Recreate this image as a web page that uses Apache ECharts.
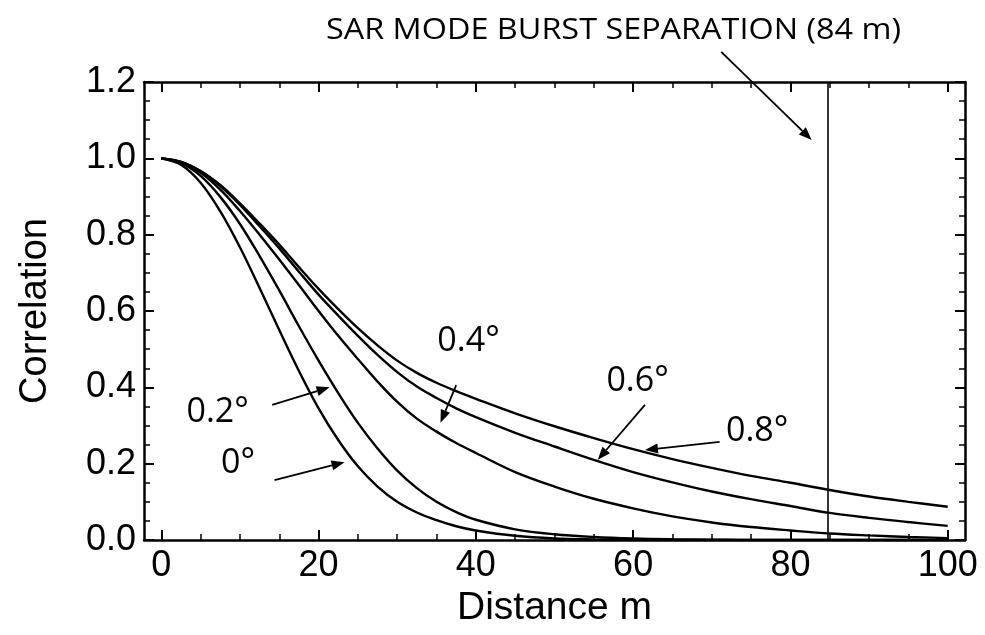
<!DOCTYPE html>
<html>
<head>
<meta charset="utf-8">
<script src="https://cdn.jsdelivr.net/npm/echarts@6/dist/echarts.min.js"></script>
<style>
html,body{margin:0;padding:0;background:#fff;}
#chart{width:985px;height:635px;}
</style>
</head>
<body>
<div id="chart"></div>
<script>
// ---- data ----
const distance = [0,2.5,5,7.5,10,12.5,15,17.5,20,22.5,25,27.5,30,32.5,35,37.5,40,45,50,55,60,65,70,75,80,85,90,95,100];
const corr0 = [1,0.983,0.936,0.861,0.767,0.66,0.55,0.443,0.345,0.262,0.193,0.14,0.1,0.072,0.052,0.036,0.025,0.011,0.004,0.0015,0.0005,0,0,0,0,0,0,0,0];
const corr02 = [1,0.988,0.954,0.899,0.828,0.744,0.654,0.56,0.47,0.385,0.307,0.24,0.182,0.136,0.1,0.073,0.053,0.028,0.015,0.008,0.004,0.002,0.001,0,0,0,0,0,0];
const corr04 = [1,0.99,0.962,0.918,0.862,0.8,0.735,0.668,0.6,0.535,0.474,0.415,0.362,0.318,0.284,0.254,0.228,0.178,0.14,0.108,0.083,0.062,0.046,0.034,0.025,0.017,0.012,0.008,0.005];
const corr06 = [1,0.991,0.966,0.927,0.878,0.822,0.764,0.703,0.643,0.588,0.535,0.485,0.44,0.402,0.372,0.345,0.322,0.281,0.245,0.21,0.178,0.151,0.127,0.107,0.089,0.071,0.058,0.047,0.037];
const corr08 = [1,0.991,0.967,0.93,0.882,0.829,0.774,0.715,0.658,0.605,0.555,0.51,0.47,0.438,0.412,0.39,0.37,0.332,0.298,0.267,0.238,0.212,0.189,0.168,0.15,0.131,0.114,0.1,0.087];
const seriesNames = ['0°','0.2°','0.4°','0.6°','0.8°'];
const seriesValues = [corr0, corr02, corr04, corr06, corr08];
const xTicks = [0,20,40,60,80,100];
const yTicks = [0,0.2,0.4,0.6,0.8,1.0,1.2];
const burstSeparation = 84.7;
const burstText = 'SAR MODE BURST SEPARATION (84 m)';
// annotation labels: [text, x, y] (data units, left/middle anchor)
const labelNotes = [['0°',7.6,0.202],['0.2°',3.2,0.335],['0.4°',35.1,0.521],['0.6°',56.6,0.417],['0.8°',71.8,0.286]];
// arrows: [x0,y0,x1,y1] in data units (tail -> head)
const arrowNotes = [[14.4,0.157,23.3,0.204],[14.1,0.354,21.4,0.40],[37.5,0.406,35.5,0.307],[61.5,0.354,55.5,0.21],[71.0,0.257,61.5,0.236],[71.2,1.279,82.7,1.048]];
const burstTextPos = [57.5,1.336];

const chart = echarts.init(document.getElementById('chart'));
const axisFont = 'Liberation Sans';
const lineW = 2.5;
function xAx(pos, show){
  return {
    type:'value', position:pos, min:-2.2, max:102.2, splitNumber:5,
    axisLine:{show:true, onZero:false, lineStyle:{color:'#000', width:lineW}},
    axisTick:{show:true, inside:true, length:10, customValues:xTicks, lineStyle:{color:'#000', width:2}},
    minorTick:{show:true, splitNumber:4, length:6, lineStyle:{color:'#000', width:1.5}},
    axisLabel:{show:show, customValues:xTicks, color:'#000', fontFamily:axisFont, fontSize:36, margin:8},
    splitLine:{show:false},
    name: show ? 'Distance m' : '', nameLocation:'middle', nameGap:40,
    nameTextStyle:{color:'#000', fontFamily:axisFont, fontSize:39}
  };
}
function yAx(pos, show){
  return {
    type:'value', position:pos, min:0, max:1.2, interval:0.2,
    axisLine:{show:true, onZero:false, lineStyle:{color:'#000', width:lineW}},
    axisTick:{show:true, inside:true, length:10, lineStyle:{color:'#000', width:2}},
    minorTick:{show:true, splitNumber:4, length:6, lineStyle:{color:'#000', width:1.5}},
    axisLabel:{show:show, color:'#000', fontFamily:axisFont, fontSize:36, margin:8,
      formatter:v=>v.toFixed(1)},
    splitLine:{show:false},
    name: show ? 'Correlation' : '', nameLocation:'middle', nameGap:89,
    nameTextStyle:{color:'#000', fontFamily:axisFont, fontSize:38}
  };
}
const series = seriesValues.map((vals,i)=>({
  name:seriesNames[i], type:'line', xAxisIndex:0, yAxisIndex:0,
  data: distance.map((d,j)=>[d, vals[j]]),
  smooth:0.35, showSymbol:false, symbol:'none',
  lineStyle:{color:'#000', width:2.4}, silent:true,
  markLine: i===0 ? {symbol:'none', silent:true, label:{show:false},
    lineStyle:{color:'#111', width:1.7, type:'solid'},
    data:[{xAxis:burstSeparation}]} : undefined
}));
chart.setOption({
  animation:false,
  backgroundColor:'#fff',
  grid:{left:144, top:82, right:20, bottom:95, containLabel:false},
  xAxis:[xAx('bottom',true), xAx('top',false)],
  yAxis:[yAx('left',true), yAx('right',false)],
  series: series
});

const P = (x,y)=>chart.convertToPixel({xAxisIndex:0, yAxisIndex:0},[x,y]);
const graphics = [];
const noteFont = '"Open Sans"';
labelNotes.forEach(([t,x,y])=>{
  const p = P(x,y);
  graphics.push({type:'text', x:p[0], y:p[1], silent:true,
    style:{text:t, fill:'#000', font:'34px '+noteFont, textAlign:'left', textVerticalAlign:'middle'}});
});
arrowNotes.forEach(([x0,y0,x1,y1])=>{
  const a = P(x0,y0), b = P(x1,y1);
  const dx=b[0]-a[0], dy=b[1]-a[1], L=Math.hypot(dx,dy);
  const ux=dx/L, uy=dy/L, hl=13, hw=5;
  const bx=b[0]-ux*hl, by=b[1]-uy*hl;
  graphics.push({type:'line', silent:true, shape:{x1:a[0],y1:a[1],x2:bx,y2:by},
    style:{stroke:'#000', lineWidth:1.8}});
  graphics.push({type:'polygon', silent:true,
    shape:{points:[[b[0],b[1]],[bx-uy*hw,by+ux*hw],[bx+uy*hw,by-ux*hw]]},
    style:{fill:'#000'}});
});
// fit the burst caption to the reference width (narrow face in the original)
const tp = P(burstTextPos[0], burstTextPos[1]);
const burstFont = '30px "Open Sans"';
const cv = document.createElement('canvas').getContext('2d');
cv.font = burstFont;
const measured = cv.measureText(burstText).width || 1;
const sx = Math.min(1.2, Math.max(0.7, 575 / measured));
graphics.push({type:'text', x:tp[0], y:tp[1], scaleX:sx, silent:true,
  style:{text:burstText, fill:'#000', font:burstFont, textAlign:'center', textVerticalAlign:'middle'}});
chart.setOption({graphic:graphics});
</script>
</body>
</html>
